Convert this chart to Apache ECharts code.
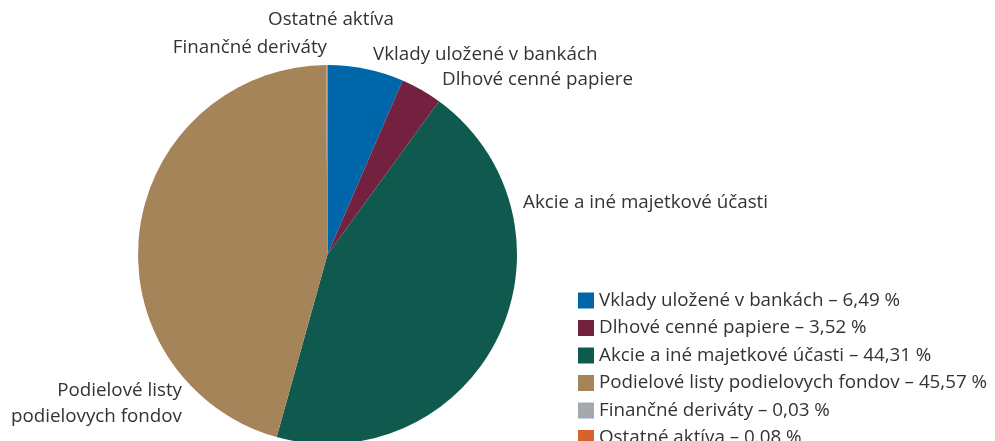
<!DOCTYPE html>
<html>
<head>
<meta charset="utf-8">
<script src="https://cdn.jsdelivr.net/npm/echarts@6/dist/echarts.min.js"></script>
<style>
  html, body { margin: 0; padding: 0; background: #fff; }
  #chart { width: 995px; height: 441px; }
</style>
</head>
<body>
<div id="chart"></div>
<script>
// Asset structure shares (%)
const categories = [
  'Vklady uložené v bankách',
  'Dlhové cenné papiere',
  'Akcie a iné majetkové účasti',
  'Podielové listy podielovych fondov',
  'Finančné deriváty',
  'Ostatné aktíva'
];
const shares = [6.49, 3.52, 44.31, 45.57, 0.03, 0.08];
const shareLabels = ['6,49', '3,52', '44,31', '45,57', '0,03', '0.08'];
const sliceLabels = [
  'Vklady uložené v bankách',
  'Dlhové cenné papiere',
  'Akcie a iné majetkové účasti',
  'Podielové listy\npodielovych fondov',
  'Finančné deriváty',
  'Ostatné aktíva'
];

const colors = ['#0066aa', '#74203f', '#10594f', '#a6845a', '#a3a9ac', '#d9622b'];
const FONT = 'Open Sans';
const FONT_SIZE = 18.8;

// Anchor for each slice label: [x, y, align]
const labelAnchors = [
  [373, 55, 'left'],
  [442, 80, 'left'],
  [523, 203, 'left'],
  [182, 404, 'right'],
  [327, 48, 'right'],
  [331, 20, 'center']
];

const chart = echarts.init(document.getElementById('chart'), null, { renderer: 'canvas' });

chart.setOption({
  animation: false,
  color: colors,
  legend: {
    orient: 'vertical',
    left: 573,
    top: 286,
    height: 400,
    itemWidth: 16,
    itemHeight: 16,
    itemGap: 8.5,
    icon: 'rect',
    textStyle: { fontFamily: FONT, fontSize: FONT_SIZE, color: '#333' },
    formatter: function (name) {
      const i = categories.indexOf(name);
      return name + ' – ' + shareLabels[i] + ' %';
    }
  },
  series: [{
    type: 'pie',
    center: [327.5, 254.5],
    radius: 189.5,
    startAngle: 90,
    clockwise: true,
    avoidLabelOverlap: false,
    itemStyle: { borderWidth: 0 },
    label: {
      show: true,
      position: 'outside',
      fontFamily: FONT,
      fontSize: FONT_SIZE,
      lineHeight: 26,
      color: '#333',
      formatter: function (p) { return sliceLabels[p.dataIndex]; }
    },
    labelLine: { show: false },
    labelLayout: function (p) {
      const a = labelAnchors[p.dataIndex];
      return { x: a[0], y: a[1], align: a[2], verticalAlign: 'middle' };
    },
    emphasis: { disabled: true },
    data: categories.map(function (c, i) { return { name: c, value: shares[i] }; })
  }]
});
</script>
</body>
</html>
